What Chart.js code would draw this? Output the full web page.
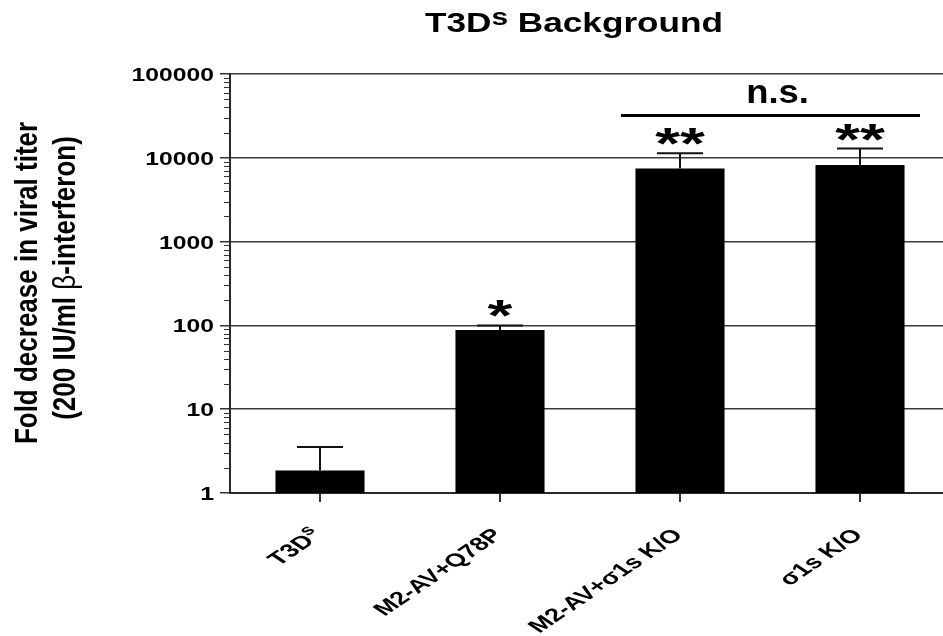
<!DOCTYPE html>
<html>
<head>
<meta charset="utf-8">
<script src="https://cdn.jsdelivr.net/npm/chart.js@4/dist/chart.umd.min.js"></script>
<style>
  html, body { margin: 0; padding: 0; background: #fff; overflow: hidden; }
  #wrap { width: 943px; height: 636px; overflow: hidden; }
</style>
</head>
<body>
<div id="wrap"><canvas id="chart" width="960" height="636"></canvas></div>
<script>
// data
const categories = ["T3D^s", "M2-AV+Q78P", "M2-AV+σ1s K/O", "σ1s K/O"];
const foldDecrease = [1.85, 88, 7430, 8230];
const errorUp = [1.7, 12, 3900, 4650];
const stars = ["", "*", "**", "**"];
const yTicks = [1, 10, 100, 1000, 10000, 100000];
const nsPair = [2, 3];
const nsLevel = 31900;

const FONT = '"Liberation Sans", Arial, sans-serif';

// text helper: horizontal stretch + optional rotation
function txt(ctx, text, x, y, size, sx, align, rot, weight) {
  ctx.save();
  ctx.translate(x, y);
  ctx.scale(sx, 1);
  if (rot) ctx.rotate(rot);
  ctx.font = `${weight || "bold"} ${size}px ${FONT}`;
  ctx.textAlign = align || "left";
  ctx.textBaseline = "alphabetic";
  ctx.fillStyle = "#000";
  ctx.fillText(text, 0, 0);
  ctx.restore();
}

function measure(ctx, text, size, weight) {
  ctx.font = `${weight || "bold"} ${size}px ${FONT}`;
  return ctx.measureText(text).width;
}

// label with "^" marking a raised tail, drawn right-aligned in the current frame
function supLabel(ctx, label, size, rise) {
  const [base, sup] = label.split("^");
  const wb = measure(ctx, base, size);
  const ws = sup ? measure(ctx, sup, size * 0.8) : 0;
  ctx.textAlign = "left";
  ctx.font = `bold ${size}px ${FONT}`;
  ctx.fillText(base, -(wb + ws), 0);
  if (sup) {
    ctx.font = `bold ${size * 0.8}px ${FONT}`;
    ctx.fillText(sup, -ws, -rise);
  }
}

const decorations = {
  id: "decorations",
  afterDatasetsDraw(chart) {
    const ctx = chart.ctx;
    const xs = chart.scales.x;
    const ys = chart.scales.y;

    // error bars (upper only)
    ctx.save();
    ctx.strokeStyle = "#111";
    ctx.lineWidth = 2;
    foldDecrease.forEach((v, i) => {
      const x = xs.getPixelForValue(i);
      const y0 = ys.getPixelForValue(v);
      const y1 = ys.getPixelForValue(v + errorUp[i]);
      ctx.beginPath();
      ctx.moveTo(x, y0);
      ctx.lineTo(x, y1);
      ctx.moveTo(x - 23, y1);
      ctx.lineTo(x + 23, y1);
      ctx.stroke();
    });
    ctx.restore();
  },
  afterDraw(chart) {
    const ctx = chart.ctx;
    const xs = chart.scales.x;
    const ys = chart.scales.y;
    const left = chart.chartArea.left;

    // minor ticks on the log axis
    ctx.save();
    ctx.strokeStyle = "#333";
    ctx.lineWidth = 1;
    for (let k = 0; k < yTicks.length - 1; k++) {
      for (let m = 2; m <= 9; m++) {
        const y = Math.round(ys.getPixelForValue(m * yTicks[k])) + 0.5;
        ctx.beginPath();
        ctx.moveTo(left - 6, y);
        ctx.lineTo(left, y);
        ctx.stroke();
      }
    }
    ctx.restore();

    // y tick labels
    yTicks.forEach((v) => {
      const y = ys.getPixelForValue(v);
      txt(ctx, String(v), 214, y + 7, 19, 1.3, "right");
    });

    // x tick labels, rotated
    categories.forEach((c, i) => {
      const x = xs.getPixelForValue(i);
      ctx.save();
      ctx.translate(x + 4, 536);
      ctx.scale(1.48, 1);
      ctx.rotate(-Math.PI / 4);
      ctx.fillStyle = "#000";
      ctx.textBaseline = "alphabetic";
      supLabel(ctx, c, 18.5, 7.5);
      ctx.restore();
    });

    // significance stars
    stars.forEach((s, i) => {
      if (!s) return;
      const x = xs.getPixelForValue(i);
      const yCap = ys.getPixelForValue(foldDecrease[i] + errorUp[i]);
      txt(ctx, s, x, yCap + 6, 44, 1.45, "center");
    });

    // n.s. bracket
    const xa = xs.getPixelForValue(nsPair[0]) - 59;
    const xb = xs.getPixelForValue(nsPair[1]) + 60;
    const yl = ys.getPixelForValue(nsLevel);
    ctx.save();
    ctx.strokeStyle = "#000";
    ctx.lineWidth = 3;
    ctx.beginPath();
    ctx.moveTo(xa, yl);
    ctx.lineTo(xb, yl);
    ctx.stroke();
    ctx.restore();
    txt(ctx, "n.s.", (xa + xb) / 2 + 7, yl - 13, 34, 1.07, "center");

    // title with superscript, stretched to span ~298px
    const tSize = 27.5;
    const w1 = measure(ctx, "T3D", tSize);
    const w2 = measure(ctx, "s", tSize * 0.85);
    const w3 = measure(ctx, " Background", tSize);
    const tsx = 298 / (w1 + w2 + w3);
    const tx = 574 - 149;
    txt(ctx, "T3D", tx, 32, tSize, tsx, "left");
    txt(ctx, "s", tx + w1 * tsx, 24.5, tSize * 0.85, tsx, "left");
    txt(ctx, " Background", tx + (w1 + w2) * tsx, 32, tSize, tsx, "left");

    // y axis title, two lines
    txt(ctx, "Fold decrease in viral titer", 37, 283, 26, 1.18, "center", -Math.PI / 2);
    const segs = [["(200 IU/ml ", "bold"], ["β", "normal"], ["-interferon)", "bold"]];
    const ls = 26;
    const total = segs.reduce((a, s) => a + measure(ctx, s[0], ls, s[1]), 0);
    let off = -total / 2;
    segs.forEach((s) => {
      ctx.save();
      ctx.translate(75, 278);
      ctx.scale(1.18, 1);
      ctx.rotate(-Math.PI / 2);
      ctx.font = `${s[1]} ${ls}px ${FONT}`;
      ctx.textAlign = "left";
      ctx.fillStyle = "#000";
      ctx.fillText(s[0], off, 0);
      ctx.restore();
      off += measure(ctx, s[0], ls, s[1]);
    });
  },
};

new Chart(document.getElementById("chart"), {
  type: "bar",
  data: {
    labels: categories,
    datasets: [
      {
        data: foldDecrease,
        backgroundColor: "#000",
        borderWidth: 0,
        barPercentage: 0.99,
        categoryPercentage: 0.5,
      },
    ],
  },
  options: {
    responsive: false,
    animation: false,
    devicePixelRatio: 1,
    layout: { padding: { top: 74, right: 10, left: 0, bottom: 0 } },
    plugins: {
      legend: { display: false },
      tooltip: { enabled: false },
      title: { display: false },
    },
    scales: {
      x: {
        afterFit: (s) => { s.height = 143; },
        ticks: { display: false },
        grid: {
          display: true,
          drawOnChartArea: false,
          offset: false,
          tickLength: 9,
          tickColor: "#333",
          lineWidth: 2,
        },
        border: { display: true, color: "#2a2a2a", width: 2 },
      },
      y: {
        type: "logarithmic",
        min: 1,
        max: 100000,
        afterBuildTicks: (s) => { s.ticks = yTicks.map((v) => ({ value: v })); },
        afterFit: (s) => { s.width = 230; },
        ticks: { display: false },
        grid: {
          color: "#3c3c3c",
          lineWidth: 1.5,
          tickLength: 10,
          tickColor: "#333",
        },
        border: { display: true, color: "#2a2a2a", width: 2 },
      },
    },
  },
  plugins: [decorations],
});
</script>
</body>
</html>
